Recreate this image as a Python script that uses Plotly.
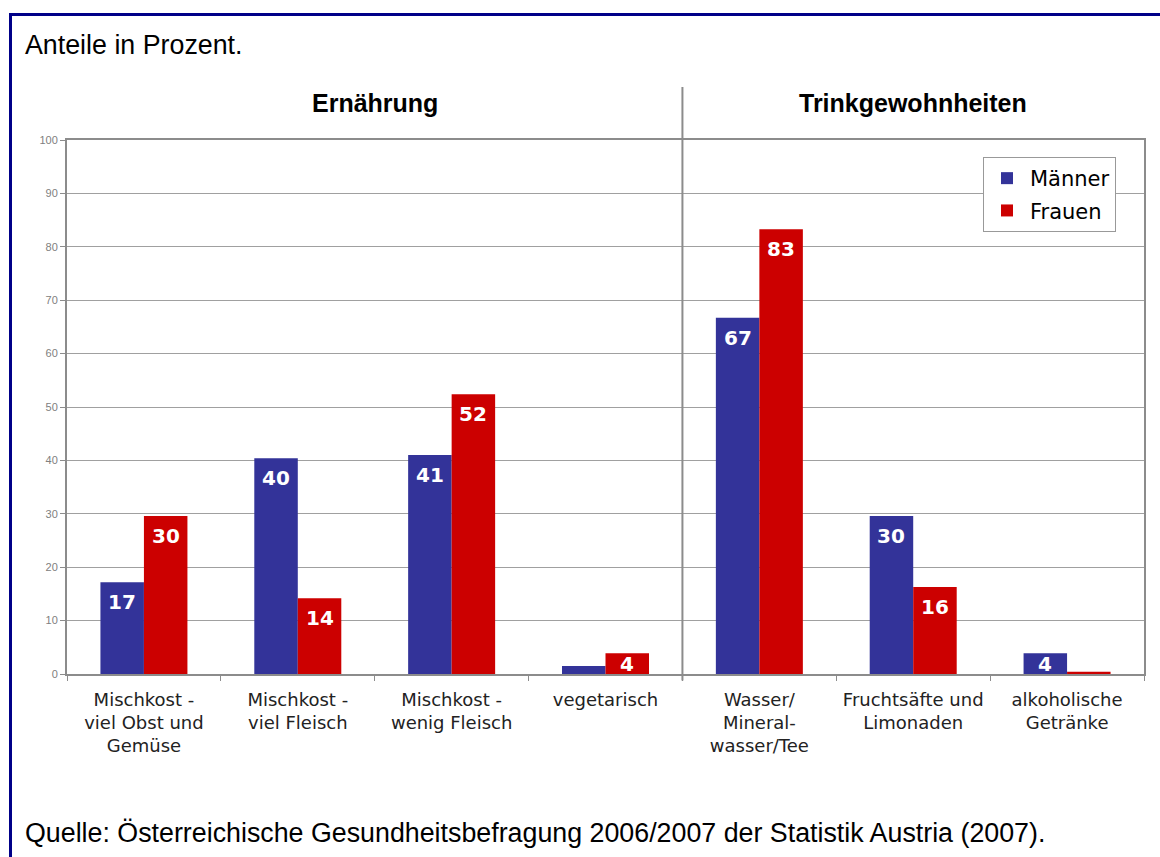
import plotly.graph_objects as go

categories = [
    "Mischkost -<br>viel Obst und<br>Gemüse",
    "Mischkost -<br>viel Fleisch",
    "Mischkost -<br>wenig Fleisch",
    "vegetarisch",
    "Wasser/<br>Mineral-<br>wasser/Tee",
    "Fruchtsäfte und<br>Limonaden",
    "alkoholische<br>Getränke",
]
maenner = [17.2, 40.4, 41.0, 1.5, 66.7, 29.6, 3.9]
frauen = [29.6, 14.2, 52.4, 3.9, 83.3, 16.3, 0.4]
maenner_labels = ["17", "40", "41", "", "67", "30", "4"]
frauen_labels = ["30", "14", "52", "4", "83", "16", ""]
group_titles = ["Ernährung", "Trinkgewohnheiten"]
y_ticks = [0, 10, 20, 30, 40, 50, 60, 70, 80, 90, 100]

W, H = 1160, 857
ML, MR, MT, MB = 67, 16, 140, 183
PH = H - MT - MB
PW = W - ML - MR
PX_PER_UNIT = PH / 100.0
CAT_W = PW / len(categories)
BAR_W = 43.5
BARGAP = 1 - 2 * BAR_W / CAT_W

BLUE = "#333399"
RED = "#CC0000"
GRAY = "#8c8c8c"
GRID = "#a0a0a0"

fig = go.Figure()
fig.add_trace(go.Bar(x=categories, y=maenner, name="Männer", marker_color=BLUE,
                     marker_line_width=0, legendgroup="m"))
fig.add_trace(go.Bar(x=categories, y=frauen, name="Frauen", marker_color=RED,
                     marker_line_width=0, legendgroup="f"))

annotations = []
for series, labels, sign in ((maenner, maenner_labels, -1), (frauen, frauen_labels, 1)):
    for i, (v, lab) in enumerate(zip(series, labels)):
        if not lab:
            continue
        h = v * PX_PER_UNIT
        if h < 40:
            y, ys = v / 2, 0
        else:
            y, ys = v, -20
        annotations.append(dict(
            x=i, y=y, xref="x", yref="y", text=f"<b>{lab}</b>", showarrow=False,
            xshift=sign * BAR_W / 2, yshift=ys, yanchor="middle", xanchor="center",
            font=dict(family="DejaVu Sans", size=20, color="white"),
        ))

# group headings
for xc, title in ((1.5, group_titles[0]), (5, group_titles[1])):
    annotations.append(dict(x=xc, y=(MT + PH - 103) / PH, xref="x", yref="paper", text=f"<b>{title}</b>",
                            yanchor="middle", showarrow=False,
                            font=dict(family="Liberation Sans", size=25, color="black")))

annotations.append(dict(x=(23 - ML) / PW, y=(MT + PH - 45) / PH, xref="paper", yref="paper",
                        xanchor="left", yanchor="middle", text="Anteile in Prozent.", showarrow=False,
                        font=dict(family="Liberation Sans", size=26.8, color="black")))
annotations.append(dict(x=(23 - ML) / PW, y=(MT + PH - 833) / PH, xref="paper", yref="paper",
                        xanchor="left", yanchor="middle",
                        text="Quelle: Österreichische Gesundheitsbefragung 2006/2007 der Statistik Austria (2007).",
                        showarrow=False, font=dict(family="Liberation Sans", size=26.8, color="black")))

shapes = [
    # divider between groups
    dict(type="line", xref="x", yref="paper", x0=3.5, x1=3.5, y0=-0.012, y1=(MT + PH - 87) / PH,
         line=dict(color=GRAY, width=2)),
    # outer navy frame
    dict(type="rect", xref="paper", yref="paper",
         x0=(10.5 - ML) / PW, x1=(W + 10 - ML) / PW,
         y0=(MT + PH - (H + 10)) / PH, y1=(MT + PH - 14.5) / PH,
         line=dict(color="#000088", width=3), fillcolor="rgba(0,0,0,0)"),
]

fig.update_layout(
    width=W, height=H,
    margin=dict(l=ML, r=MR, t=MT, b=MB),
    paper_bgcolor="white", plot_bgcolor="white",
    barmode="group", bargap=BARGAP, bargroupgap=0,
    showlegend=True,
    legend=dict(x=(983 - ML) / PW, y=(MT + PH - 157) / PH, xanchor="left", yanchor="top",
                bgcolor="white", bordercolor="#999999", borderwidth=1,
                font=dict(family="DejaVu Sans", size=21, color="black"),
                traceorder="grouped", tracegroupgap=2, itemwidth=36,
                entrywidth=128, entrywidthmode="pixels"),
    annotations=annotations,
    shapes=shapes,
    xaxis=dict(range=[-0.5, len(categories) - 0.5], showgrid=False,
               ticks="outside", tickson="boundaries", ticklen=5, tickcolor=GRAY, tickwidth=1,
               showline=True, mirror=True, linecolor=GRAY, linewidth=2,
               ticklabelstandoff=8,
               tickfont=dict(family="DejaVu Sans", size=18, color="#222222"), tickangle=0),
    yaxis=dict(range=[0, 100], tickvals=y_ticks, showgrid=True, gridcolor=GRID, gridwidth=1,
               ticks="outside", ticklen=5, tickcolor=GRAY, tickwidth=1,
               showline=True, mirror=True, linecolor=GRAY, linewidth=2, zeroline=False,
               tickfont=dict(family="Liberation Sans", size=11, color="#808080")),
)

fig.write_html("out.html", config={"displayModeBar": False},
               post_script="document.body.style.margin='0';document.body.style.overflow='hidden';")
